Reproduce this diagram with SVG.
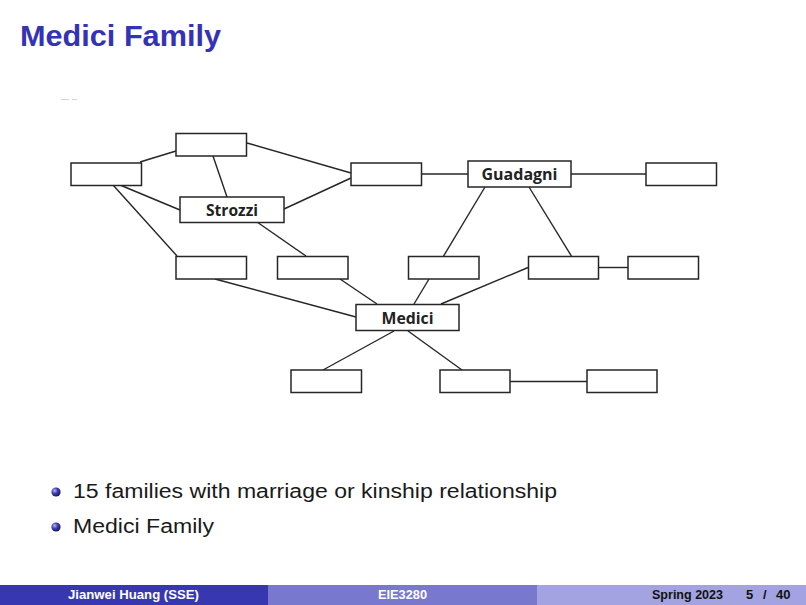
<svg xmlns="http://www.w3.org/2000/svg" width="806" height="605" viewBox="0 0 806 605">
  <defs>
    <radialGradient id="ball" cx="0.35" cy="0.35" r="0.7">
      <stop offset="0" stop-color="#b8b8f0"/>
      <stop offset="0.45" stop-color="#4040b8"/>
      <stop offset="1" stop-color="#141450"/>
    </radialGradient>
  </defs>
  <style>
    .node rect { fill: #ffffff; stroke: #262626; stroke-width: 1.5; }
    .node text { font-family: "Open Sans", "Noto Sans", "DejaVu Sans", sans-serif; font-weight: bold; font-size: 16px; fill: #222222; text-anchor: middle; }
    #edges line { stroke: #262626; stroke-width: 1.4; }
    .title { font-family: "Liberation Sans", Arial, sans-serif; font-weight: bold; font-size: 29px; fill: #3333b3; }
    .body { font-family: "Liberation Sans", Arial, sans-serif; font-size: 20px; fill: #1a1a1a; }
    .foot { font-family: "Liberation Sans", Arial, sans-serif; font-weight: bold; font-size: 13px; }
  </style>

  <rect width="806" height="605" fill="#ffffff"/>

  <!-- frame title -->
  <text class="title" x="20" y="46" textLength="201" lengthAdjust="spacingAndGlyphs">Medici Family</text>

  <!-- faint stray marks under the title -->
  <line x1="61" y1="99.5" x2="69" y2="99.5" stroke="#d4d4d4" stroke-width="1"/>
  <line x1="72" y1="99.5" x2="77" y2="99.5" stroke="#d4d4d4" stroke-width="1"/>

  <!-- connectors -->
  <g id="edges">
    <line x1="140" y1="162" x2="176" y2="151"/>
    <line x1="247" y1="143" x2="351" y2="173"/>
    <line x1="213" y1="156" x2="227" y2="197"/>
    <line x1="120" y1="185" x2="180" y2="210"/>
    <line x1="284" y1="209" x2="351" y2="178"/>
    <line x1="113" y1="185" x2="177" y2="256"/>
    <line x1="257" y1="222" x2="306" y2="256"/>
    <line x1="422" y1="174" x2="468" y2="174"/>
    <line x1="571" y1="174" x2="646" y2="174"/>
    <line x1="485" y1="187" x2="443" y2="257"/>
    <line x1="529" y1="187" x2="572" y2="257"/>
    <line x1="598" y1="267.5" x2="628" y2="267.5"/>
    <line x1="215" y1="279" x2="356" y2="317"/>
    <line x1="340" y1="279" x2="377" y2="304"/>
    <line x1="429" y1="279" x2="414" y2="304"/>
    <line x1="528" y1="267.5" x2="441" y2="304"/>
    <line x1="394" y1="331" x2="323" y2="370"/>
    <line x1="408" y1="331" x2="462" y2="370"/>
    <line x1="510" y1="381.5" x2="587" y2="381.5"/>
  </g>

  <!-- family nodes -->
  <g id="n-top" class="node"><rect x="176" y="133.5" width="70.5" height="22.5"/></g>
  <g id="n-left" class="node"><rect x="71" y="163" width="70.5" height="22.5"/></g>
  <g id="n-strozzi" class="node"><rect x="180" y="197" width="104" height="25.5"/><text x="232" y="216" textLength="52" lengthAdjust="spacingAndGlyphs">Strozzi</text></g>
  <g id="n-mid" class="node"><rect x="351" y="163" width="70.5" height="22.5"/></g>
  <g id="n-guadagni" class="node"><rect x="468" y="161" width="103" height="26"/><text x="519.5" y="180" textLength="76" lengthAdjust="spacingAndGlyphs">Guadagni</text></g>
  <g id="n-right" class="node"><rect x="646" y="163" width="70.5" height="22.5"/></g>
  <g id="n-row1" class="node"><rect x="176" y="256.5" width="70.5" height="22.5"/></g>
  <g id="n-row2" class="node"><rect x="277.5" y="256.5" width="70.5" height="22.5"/></g>
  <g id="n-row3" class="node"><rect x="408.5" y="256.5" width="70.5" height="22.5"/></g>
  <g id="n-row4" class="node"><rect x="528.5" y="256.5" width="70" height="22.5"/></g>
  <g id="n-row5" class="node"><rect x="628" y="256.5" width="70.5" height="22.5"/></g>
  <g id="n-medici" class="node"><rect x="356" y="304.5" width="103" height="26"/><text x="407.5" y="324" textLength="52" lengthAdjust="spacingAndGlyphs">Medici</text></g>
  <g id="n-bot1" class="node"><rect x="291" y="370" width="70.5" height="22.5"/></g>
  <g id="n-bot2" class="node"><rect x="440" y="370" width="70" height="22.5"/></g>
  <g id="n-bot3" class="node"><rect x="587" y="370" width="70" height="22.5"/></g>

  <!-- bullet list -->
  <circle cx="56" cy="492" r="4.6" fill="url(#ball)"/>
  <text class="body" x="73" y="498" textLength="484" lengthAdjust="spacingAndGlyphs">15 families with marriage or kinship relationship</text>
  <circle cx="56" cy="527" r="4.6" fill="url(#ball)"/>
  <text class="body" x="73" y="533" textLength="141" lengthAdjust="spacingAndGlyphs">Medici Family</text>

  <!-- footline -->
  <rect x="0" y="585" width="268" height="20" fill="#3737b2"/>
  <rect x="268" y="585" width="269" height="20" fill="#7878cf"/>
  <rect x="537" y="585" width="269" height="20" fill="#a3a3e1"/>
  <text class="foot" x="68" y="599" fill="#ffffff" textLength="131" lengthAdjust="spacingAndGlyphs">Jianwei Huang  (SSE)</text>
  <text class="foot" x="378" y="599" fill="#ffffff" textLength="49" lengthAdjust="spacingAndGlyphs">EIE3280</text>
  <text class="foot" x="652" y="599" fill="#111111" textLength="71" lengthAdjust="spacingAndGlyphs">Spring 2023</text>
  <text class="foot" y="599" fill="#111111"><tspan x="746">5</tspan><tspan x="763">/</tspan><tspan x="776">40</tspan></text>
</svg>
